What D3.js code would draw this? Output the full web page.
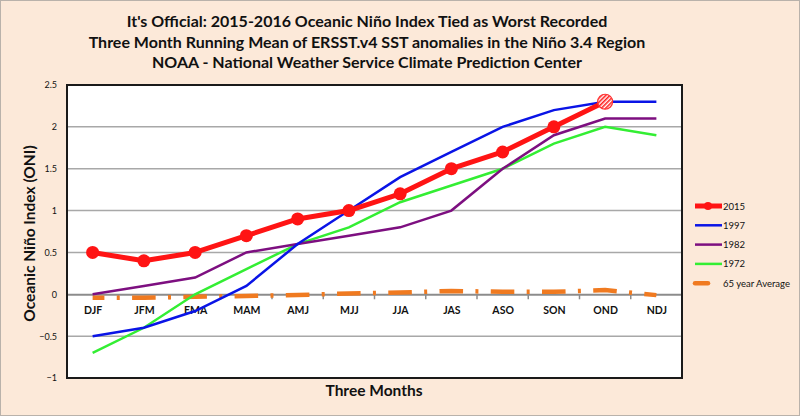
<!DOCTYPE html>
<html lang="en">
<head>
    <meta charset="UTF-8">
    <title>Oceanic Nino Index</title>
    <style>
        body { margin: 0; background: #fce9d9; }
        svg { display: block; }
        text { font-family: Lato, "Open Sans", sans-serif; fill: #111; }
    </style>
</head>
<body>
    <div id="chart"></div>
    <script src="https://cdn.jsdelivr.net/npm/d3@7"></script>
    <script>
        // three-month seasons on the x axis
        const seasons = ['DJF', 'JFM', 'EMA', 'MAM', 'AMJ', 'MJJ', 'JJA', 'JAS', 'ASO', 'SON', 'OND', 'NDJ']
        const yTicks = [-1, -0.5, 0, 0.5, 1, 1.5, 2, 2.5]

        // ONI values (2015 stops at OND)
        const oni2015 = [0.5, 0.4, 0.5, 0.7, 0.9, 1.0, 1.2, 1.5, 1.7, 2.0, 2.3]
        const oni1997 = [-0.5, -0.4, -0.2, 0.1, 0.6, 1.0, 1.4, 1.7, 2.0, 2.2, 2.3, 2.3]
        const oni1982 = [0.0, 0.1, 0.2, 0.5, 0.6, 0.7, 0.8, 1.0, 1.5, 1.9, 2.1, 2.1]
        const oni1972 = [-0.7, -0.4, 0.0, 0.3, 0.6, 0.8, 1.1, 1.3, 1.5, 1.8, 2.0, 1.9]
        const avg65 = [-0.04, -0.04, -0.03, -0.02, -0.01, 0.01, 0.02, 0.04, 0.03, 0.03, 0.05, -0.01]

        const titles = [
            "It's Official: 2015-2016 Oceanic Niño Index Tied as Worst Recorded",
            'Three Month Running Mean of ERSST.v4 SST anomalies in the Niño 3.4 Region',
            'NOAA - National Weather Service Climate Prediction Center'
        ]

        const w = 800
        const h = 416
        const plot = { left: 67, right: 682, top: 85, bottom: 378 }

        const svg = d3.select('#chart').append('svg')
            .attr('width', w)
            .attr('height', h)

        // outer frame
        svg.append('rect')
            .attr('x', 0.5).attr('y', 0.5)
            .attr('width', w - 1).attr('height', h - 1)
            .attr('fill', '#fce9d9')
            .attr('stroke', '#b9b2ab')

        // hatch pattern for the last 2015 marker
        const defs = svg.append('defs')
        const hatch = defs.append('pattern')
            .attr('id', 'hatch')
            .attr('patternUnits', 'userSpaceOnUse')
            .attr('width', 3).attr('height', 3)
            .attr('patternTransform', 'rotate(45)')
        hatch.append('rect').attr('width', 3).attr('height', 3).attr('fill', '#fff')
        hatch.append('rect').attr('width', 1.6).attr('height', 3).attr('fill', '#f22')

        // titles
        svg.selectAll('.title')
            .data(titles)
            .enter()
            .append('text')
            .attr('class', 'title')
            .attr('x', 367)
            .attr('y', (d, i) => 27 + i * 20.5)
            .attr('text-anchor', 'middle')
            .attr('font-size', 16)
            .attr('font-weight', 'bold')
            .text(d => d)

        const x = d3.scalePoint()
            .domain(seasons)
            .range([plot.left, plot.right])
            .padding(0.5)

        const y = d3.scaleLinear()
            .domain([-1, 2.5])
            .range([plot.bottom, plot.top])

        // plot background
        svg.append('rect')
            .attr('x', plot.left).attr('y', plot.top)
            .attr('width', plot.right - plot.left)
            .attr('height', plot.bottom - plot.top)
            .attr('fill', '#fff')

        // gridlines
        svg.selectAll('.grid')
            .data(yTicks.filter(d => d > -1 && d < 2.5 && d !== 0))
            .enter()
            .append('line')
            .attr('class', 'grid')
            .attr('x1', plot.left).attr('x2', plot.right)
            .attr('y1', d => y(d)).attr('y2', d => y(d))
            .attr('stroke', '#a8a8a8')
            .attr('stroke-width', 1.5)

        // y tick labels
        const yAxis = d3.axisLeft(y).tickValues(yTicks).tickSize(0).tickPadding(10)
            .tickFormat(d3.format('~g'))
        const gy = svg.append('g')
            .attr('transform', `translate(${plot.left},0)`)
            .call(yAxis)
        gy.select('.domain').remove()
        gy.selectAll('text')
            .attr('font-size', 9)
            .attr('font-family', 'Lato, sans-serif')
            .attr('fill', '#333')

        // zero line with ticks between seasons
        const step = x.step()
        const xAxis = d3.axisBottom(x).tickSize(0).tickPadding(12)
        const gx = svg.append('g')
            .attr('transform', `translate(0,${y(0)})`)
            .call(xAxis)
        gx.select('.domain')
            .attr('stroke', '#8c8c8c')
            .attr('stroke-width', 2)
        gx.selectAll('text')
            .attr('font-size', 10.5)
            .attr('font-weight', 'bold')
            .attr('font-family', 'Lato, sans-serif')
            .attr('fill', '#111')
        gx.selectAll('.sep')
            .data(seasons.slice(1))
            .enter()
            .append('line')
            .attr('class', 'sep')
            .attr('x1', d => x(d) - step / 2).attr('x2', d => x(d) - step / 2)
            .attr('y1', 0).attr('y2', 5)
            .attr('stroke', '#8c8c8c')
            .attr('stroke-width', 1.5)

        const line = d3.line()
            .x((d, i) => x(seasons[i]))
            .y(d => y(d))

        // 65 year average, dash centred on each season with a dot in between
        const dash = step * 0.46
        const gap = (step - dash - 3) / 2
        svg.append('path')
            .datum(avg65)
            .attr('d', line)
            .attr('fill', 'none')
            .attr('stroke', '#f07a20')
            .attr('stroke-width', 4.5)
            .attr('stroke-dasharray', `${dash} ${gap} 3 ${gap}`)
            .attr('stroke-dashoffset', dash / 2)

        const series = [
            { name: '1972', values: oni1972, color: '#33ee33', width: 2.5 },
            { name: '1982', values: oni1982, color: '#7d0f80', width: 2.5 },
            { name: '1997', values: oni1997, color: '#0a14e6', width: 2.5 }
        ]

        series.forEach(s => {
            svg.append('path')
                .datum(s.values)
                .attr('d', line)
                .attr('fill', 'none')
                .attr('stroke', s.color)
                .attr('stroke-width', s.width)
        })

        // 2015 line with markers
        svg.append('path')
            .datum(oni2015)
            .attr('d', line)
            .attr('fill', 'none')
            .attr('stroke', '#ff1414')
            .attr('stroke-width', 5)
            .attr('stroke-linejoin', 'round')

        svg.selectAll('.dot')
            .data(oni2015)
            .enter()
            .append('circle')
            .attr('class', 'dot')
            .attr('cx', (d, i) => x(seasons[i]))
            .attr('cy', d => y(d))
            .attr('r', (d, i) => i === oni2015.length - 1 ? 7.5 : 6.5)
            .attr('fill', (d, i) => i === oni2015.length - 1 ? 'url(#hatch)' : '#ff1414')
            .attr('stroke', (d, i) => i === oni2015.length - 1 ? '#f33' : 'none')
            .attr('stroke-width', 1.2)

        // plot border
        svg.append('rect')
            .attr('x', plot.left).attr('y', plot.top)
            .attr('width', plot.right - plot.left)
            .attr('height', plot.bottom - plot.top)
            .attr('fill', 'none')
            .attr('stroke', '#1a1a1a')
            .attr('stroke-width', 2)

        // axis titles
        svg.append('text')
            .attr('transform', `translate(35,${(plot.top + plot.bottom) / 2 + 2}) rotate(-90)`)
            .attr('text-anchor', 'middle')
            .attr('font-size', 15.5)
            .attr('font-weight', 'bold')
            .text('Oceanic Niño Index (ONI)')

        svg.append('text')
            .attr('x', 374)
            .attr('y', 396)
            .attr('text-anchor', 'middle')
            .attr('font-size', 15.5)
            .attr('font-weight', 'bold')
            .text('Three Months')

        // legend
        const legendItems = [
            { name: '2015', color: '#ff1414', width: 5, marker: true },
            { name: '1997', color: '#0a14e6', width: 2.5 },
            { name: '1982', color: '#7d0f80', width: 2.5 },
            { name: '1972', color: '#33ee33', width: 2.5 },
            { name: '65 year Average', color: '#f07a20', width: 4.5, short: true }
        ]
        const legend = svg.append('g').attr('id', 'legend')
        const rows = legend.selectAll('g')
            .data(legendItems)
            .enter()
            .append('g')
            .attr('transform', (d, i) => `translate(695,${206 + i * 19.3})`)
        rows.append('line')
            .attr('x1', 0).attr('x2', d => d.short ? 13 : 27)
            .attr('y1', 0).attr('y2', 0)
            .attr('stroke', d => d.color)
            .attr('stroke-width', d => d.width)
            .attr('stroke-linecap', d => d.short ? 'round' : 'butt')
        rows.filter(d => d.marker)
            .append('circle')
            .attr('cx', 13).attr('cy', 0).attr('r', 4)
            .attr('fill', d => d.color)
        rows.append('text')
            .attr('x', 28)
            .attr('y', 3.5)
            .attr('font-size', 9.5)
            .attr('fill', '#222')
            .text(d => d.name)
    </script>
</body>
</html>
